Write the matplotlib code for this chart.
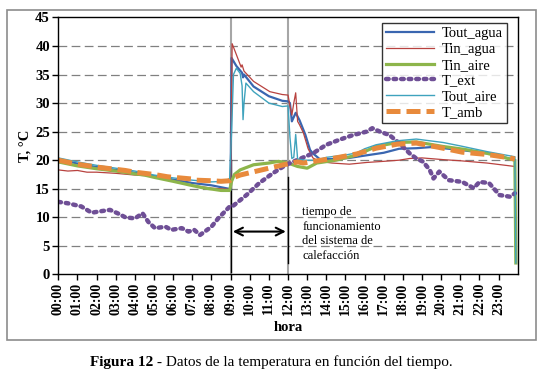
import matplotlib
matplotlib.use('Agg')
from matplotlib import pyplot as plt

plt.rcParams['font.family'] = ['Liberation Serif', 'DejaVu Serif']

hour_labels = ['%02d:00' % h for h in range(24)]

# Tout_agua
t_out_agua = [0, 1, 2, 3, 4, 5, 6, 7, 8, 8.9, 9.0, 9.05, 9.3, 9.6, 9.65, 9.7, 10.2, 11.0, 11.7, 12.0, 12.1,
              12.2, 12.4, 12.6, 12.9, 13.15, 13.3, 13.65, 14.5, 15.2, 16.0, 17.0, 17.8, 18.7, 19.5, 20.1, 21.0,
              22.4, 23.0, 23.85]
y_out_agua = [20.2, 19.4, 18.8, 18.3, 17.8, 17.2, 16.6, 16.0, 15.6, 15.0, 14.8, 37.9, 36.5, 35.3, 34.5, 35.0,
              32.9, 31.2, 30.4, 30.3, 30.0, 26.8, 28.3, 27.0, 24.5, 21.8, 21.2, 20.2, 20.2, 20.4, 20.8, 21.3,
              22.0, 22.1, 22.3, 22.1, 21.8, 21.2, 20.8, 20.0]

# Tin_agua
t_in_agua = [0, 0.5, 1, 1.5, 2, 3, 4, 4.5, 5, 6, 7, 8, 8.9, 9.0, 9.08, 9.3, 9.55, 9.6, 9.7, 10.2, 11.05, 11.7,
             12.0, 12.1, 12.2, 12.3, 12.4, 12.5, 12.6, 12.8, 13.05, 13.3, 13.6, 14.3, 15.2, 16.1, 17.0, 17.8,
             18.35, 19.0, 20.1, 21.0, 22.4, 23.85]
y_in_agua = [18.3, 18.1, 18.2, 17.9, 17.9, 17.7, 17.4, 17.3, 17.1, 16.3, 15.6, 15.1, 14.9, 15.0, 40.4, 38.5,
             36.3, 36.7, 35.6, 33.8, 32.0, 31.5, 31.4, 29.5, 27.9, 30.0, 31.8, 26.8, 26.2, 24.8, 22.0, 20.4,
             19.8, 19.5, 19.3, 19.6, 19.8, 20.0, 20.3, 20.4, 20.1, 19.9, 19.5, 18.9]

# Tin_aire
t_in_aire = [0, 1, 2, 3, 4, 4.5, 5, 6, 6.8, 7.5, 8.5, 8.95, 9.05, 9.2, 9.5, 10.2, 11.0, 11.5, 12.0, 12.5, 13.0,
             13.5, 14.5, 15.6, 16.6, 17.7, 18.7, 20.1, 21.2, 22.4, 23.85, 23.9]
y_in_aire = [19.7, 19.0, 18.5, 18.1, 17.6, 17.4, 17.0, 16.3, 15.7, 15.2, 14.7, 14.7, 16.3, 17.5, 18.3, 19.2,
             19.5, 19.8, 19.5, 18.9, 18.6, 19.5, 20.0, 20.9, 22.4, 23.1, 23.2, 22.4, 21.9, 21.2, 20.0, 2.0]

# T_ext
t_ext = [0, 0.5, 1.2, 1.74, 2.1, 2.7, 3.1, 3.5, 4.0, 4.4, 4.7, 5.05, 5.6, 5.9, 6.45, 6.8, 7.1, 7.4, 7.65, 8.0,
         8.35, 8.96, 9.13, 9.83, 10.5, 11.2, 11.9, 12.6, 13.3, 14.0, 14.7, 15.4, 16.1, 16.4, 16.8, 17.3, 17.8,
         18.35, 18.7, 19.05, 19.4, 19.6, 19.9, 20.4, 21.1, 21.7, 22.0, 22.5, 23.05, 23.6, 23.85]
y_ext = [12.7, 12.45, 11.9, 10.8, 11.0, 11.3, 10.7, 10.0, 9.8, 10.7, 9.2, 8.1, 8.35, 7.8, 8.1, 7.5, 7.8, 6.9,
         7.5, 8.35, 9.8, 11.9, 12.0, 13.9, 16.0, 17.7, 19.2, 20.2, 21.2, 22.7, 23.6, 24.4, 25.0, 25.6, 25.0,
         24.4, 23.0, 21.2, 20.3, 19.75, 18.3, 16.8, 18.0, 16.5, 16.2, 15.1, 16.2, 16.0, 13.9, 13.6, 14.2]

# Tout_aire
t_out_aire = [0, 1, 2, 3, 4, 5, 6, 7, 8, 8.7, 8.95, 9.05, 9.15, 9.3, 9.5, 9.6, 9.65, 9.7, 9.8, 10.2, 11.0,
              11.7, 12.0, 12.1, 12.2, 12.3, 12.4, 12.5, 12.9, 13.5, 14.0, 15.0, 15.6, 16.0, 16.6, 17.7, 18.7,
              20.1, 21.0, 22.4, 23.85, 23.9]
y_out_aire = [20.4, 19.7, 19.1, 18.6, 18.1, 17.4, 16.9, 16.5, 16.2, 16.3, 16.8, 25.0, 35.0, 36.1, 35.2, 33.0,
              27.1, 30.0, 33.5, 32.0, 30.0, 29.4, 29.5, 24.0, 20.3, 20.5, 24.5, 20.2, 20.0, 20.0, 20.5, 20.9,
              21.3, 22.0, 22.7, 23.4, 23.7, 23.1, 22.5, 21.5, 20.6, 2.0]

# T_amb
t_amb = [0, 1, 2, 3, 3.5, 4, 5, 5.7, 6, 7, 7.2, 8, 8.5, 8.95, 9.1, 9.5, 10, 11, 11.9, 12.5, 12.8, 13.55, 14.5,
         15.6, 16.6, 17.7, 18.7, 20.1, 21.1, 22.4, 23.6, 23.85]
y_amb = [20.0, 19.3, 18.8, 18.4, 18.2, 17.9, 17.5, 17.1, 17.0, 16.7, 16.5, 16.4, 16.3, 16.4, 16.9, 17.4, 17.8,
         18.6, 19.3, 19.7, 19.5, 19.9, 20.4, 21.1, 22.1, 22.8, 23.0, 22.1, 21.4, 21.0, 20.4, 20.2]

fig = plt.figure(figsize=(5.45, 3.79), dpi=100)
ax = fig.add_axes([0.107, 0.276, 0.843, 0.678])

# marco gris exterior
frame = plt.Rectangle((0.013, 0.103), 0.971, 0.871, transform=fig.transFigure, fill=False,
                      edgecolor='#8c8c8c', linewidth=1.2)
fig.patches.append(frame)

for yv in range(5, 45, 5):
    ax.axhline(yv, color='#808080', linewidth=0.9, dashes=(7, 3.5), zorder=0)

ax.axvline(9, color='#a6a6a6', linewidth=1.5, zorder=1)
ax.axvline(12, color='#a6a6a6', linewidth=1.5, zorder=1)
ax.plot([9, 9], [0.5, 20], color='black', linewidth=1.0, zorder=1)
ax.plot([12, 12], [2, 17], color='black', linewidth=1.0, zorder=1)

ax.plot(t_out_agua, y_out_agua, color='#3a66b0', linewidth=1.6, label='Tout_agua')
ax.plot(t_in_agua, y_in_agua, color='#b8423f', linewidth=0.9, label='Tin_agua')
ax.plot(t_in_aire, y_in_aire, color='#8db54b', linewidth=2.3, label='Tin_aire')
ax.plot(t_ext, y_ext, color='#6f4f96', linewidth=3.2, dashes=(0.6, 1.1), dash_capstyle='round',
        label='T_ext')
ax.plot(t_out_aire, y_out_aire, color='#3fa3bd', linewidth=1.0, label='Tout_aire')
ax.plot(t_amb, y_amb, color='#e88a3c', linewidth=3.6, dashes=(2.8, 1.2), label='T_amb')

ax.annotate('', xy=(8.97, 7.5), xytext=(12.03, 7.5),
            arrowprops=dict(arrowstyle='<->', color='black', linewidth=1.5, mutation_scale=14))
ax.text(12.75, 12.0, 'tiempo de\nfuncionamiento\ndel sistema de\ncalefacción', fontsize=9,
        va='top', ha='left', linespacing=1.3)

ax.set_xlim(0, 24)
ax.set_ylim(0, 45)
ax.set_yticks(range(0, 50, 5))
ax.set_xticks(range(24))
ax.set_xticklabels(hour_labels, rotation=90, fontsize=10, fontweight='bold')
for lab in ax.get_yticklabels():
    lab.set_fontsize(10.5)
    lab.set_fontweight('bold')
ax.tick_params(direction='out', length=4, width=1, pad=2)
for sp in ax.spines.values():
    sp.set_linewidth(1.0)

ax.set_ylabel('T, °C', fontsize=10.5, fontweight='bold', labelpad=3)
ax.set_xlabel('hora', fontsize=10.5, fontweight='bold', labelpad=4)

leg = ax.legend(loc='upper right', bbox_to_anchor=(0.976, 0.979), fontsize=10.5, frameon=True, fancybox=False,
                handlelength=3.3, labelspacing=0.17, borderpad=0.3, handletextpad=0.5, borderaxespad=0)
leg.get_frame().set_edgecolor('black')
leg.get_frame().set_linewidth(1.0)

cap = fig.text(0.165, 0.035, 'Figura 12', fontsize=11, fontweight='bold', ha='left', va='baseline')
ax.annotate(' - Datos de la temperatura en función del tiempo.', xy=(1, 0), xycoords=cap,
            fontsize=11, ha='left', va='bottom', annotation_clip=False)

fig.savefig('out.png', dpi=100)
